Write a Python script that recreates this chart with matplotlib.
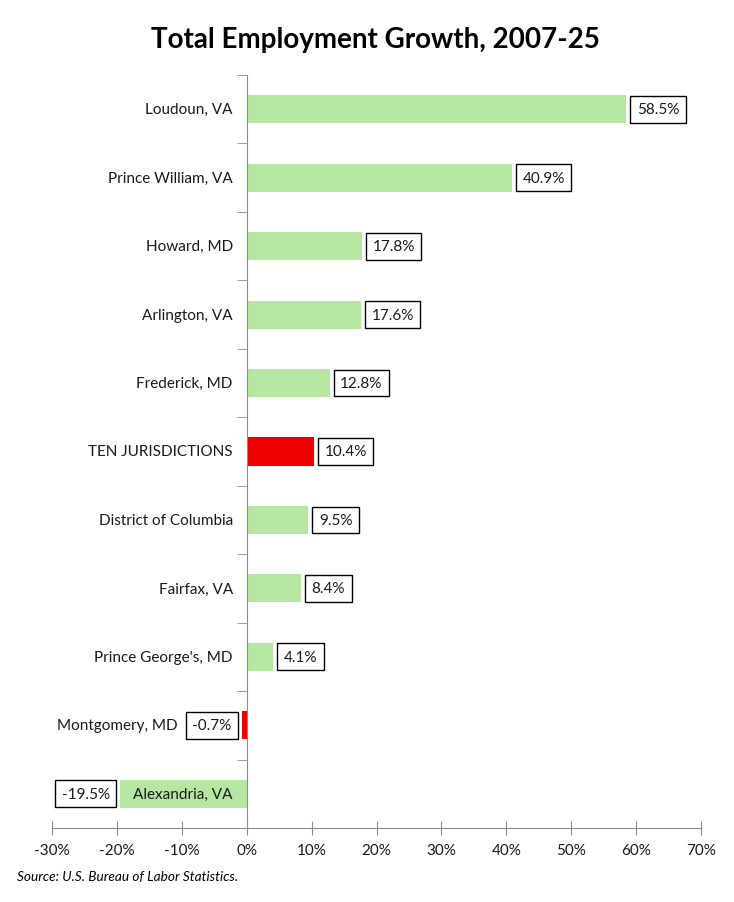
import matplotlib
matplotlib.use("Agg")
import matplotlib.pyplot as plt
from matplotlib.ticker import FixedLocator, FuncFormatter

plt.rcParams['font.family'] = ['Lato', 'DejaVu Sans']

# data, top to bottom as shown
places = ['Loudoun, VA', 'Prince William, VA', 'Howard, MD', 'Arlington, VA',
          'Frederick, MD', 'TEN JURISDICTIONS', 'District of Columbia',
          'Fairfax, VA', "Prince George's, MD", 'Montgomery, MD', 'Alexandria, VA']
growth = [58.5, 40.9, 17.8, 17.6, 12.8, 10.4, 9.5, 8.4, 4.1, -0.7, -19.5]
highlight = ['TEN JURISDICTIONS', 'Montgomery, MD']
xticks = [-30, -20, -10, 0, 10, 20, 30, 40, 50, 60, 70]

green = '#b5e6a2'
red = '#ee0000'
axis_grey = '#8c8c8c'

fig = plt.figure(figsize=(7.34, 9.03), dpi=100)
ax = fig.add_axes([52/734, 1 - 829/903, (701 - 52)/734, (829 - 76)/903])

n = len(places)
ypos = [n - 1 - i for i in range(n)]
colors = [red if p in highlight else green for p in places]
ax.barh(ypos, growth, height=0.41, color=colors, zorder=2)

ax.set_xlim(-30, 70)
ax.set_ylim(-0.5, n - 0.5)

for s in ['top', 'right']:
    ax.spines[s].set_visible(False)
ax.spines['left'].set_position(('data', 0))
ax.spines['left'].set_color(axis_grey)
ax.spines['bottom'].set_color(axis_grey)
ax.spines['left'].set_zorder(3)

ax.set_xticks(xticks)
ax.xaxis.set_major_formatter(FuncFormatter(lambda v, p: f'{v:.0f}%'))
ax.tick_params(axis='x', direction='inout', length=10, color=axis_grey,
               labelsize=11, pad=6, labelcolor='#1a1a1a')

ax.set_yticks([])
ax.yaxis.set_minor_locator(FixedLocator([i - 0.5 for i in range(n + 1)]))
ax.tick_params(axis='y', which='minor', direction='out', length=7, color=axis_grey)

# category labels, right-aligned next to the zero axis
for p, y in zip(places, ypos):
    off = -50 if p == 'Montgomery, MD' else -10
    ax.annotate(p, (0, y), xytext=(off, 0), textcoords='offset points',
                ha='right', va='center', fontsize=11, color='#1a1a1a', zorder=4)

# boxed value labels
for v, y in zip(growth, ypos):
    off = 7.5 if v >= 0 else -7.5
    ax.annotate(f'{v:.1f}%', (v, y), xytext=(off, 0),
                textcoords='offset points', ha='left' if v >= 0 else 'right',
                va='center', fontsize=11, color='#1a1a1a', zorder=5,
                bbox=dict(boxstyle='square,pad=0.42', fc='white', ec='black', lw=1))

fig.text(375/734, 1 - 40/903, 'Total Employment Growth, 2007-25', ha='center', va='center',
         fontsize=20, fontweight='bold')
fig.text(17/734, 1 - 877/903, 'Source: U.S. Bureau of Labor Statistics.', ha='left',
         va='center', fontsize=9.8, style='italic')

fig.savefig('out.png', dpi=100)
